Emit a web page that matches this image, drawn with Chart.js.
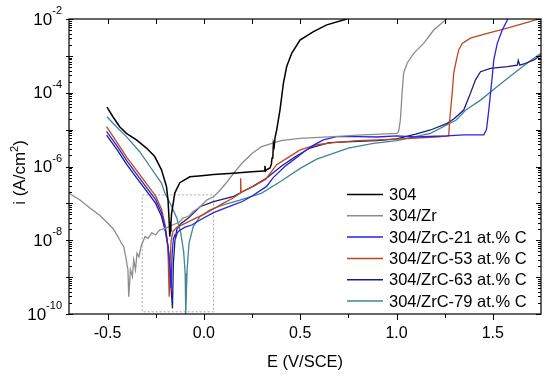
<!DOCTYPE html>
<html><head><meta charset="utf-8">
<script src="https://cdn.jsdelivr.net/npm/chart.js@4/dist/chart.umd.min.js"></script>
<style>html,body{margin:0;padding:0;background:#fff}#wrap{width:550px;height:380px}</style>
</head><body><div id="wrap"><canvas id="c" width="550" height="380"></canvas></div>
<script>
// ---- data (E in V/SCE, current density stored as log10(i / A cm^-2)) ----
const seriesNames = ['304','304/Zr','304/ZrC-21 at.% C','304/ZrC-53 at.% C','304/ZrC-63 at.% C','304/ZrC-79 at.% C'];
const seriesColors = ['#000000','#8c8c8c','#2424e6','#c0461e','#1c1c80','#3f8698'];

const E_304 = [-0.503,-0.472,-0.437,-0.402,-0.350,-0.298,-0.255,-0.220,-0.194,-0.186,-0.180,-0.177,-0.174,-0.171,-0.168,-0.151,-0.125,-0.073,-0.012,0.05,0.151,0.25,0.309,0.314,0.317,0.320,0.323,0.343,0.350,0.354,0.358,0.361,0.365,0.370,0.378,0.395,0.413,0.430,0.456,0.499,0.569,0.638,0.742];
const logI_304 = [-4.39,-4.65,-4.92,-5.10,-5.28,-5.50,-5.73,-6.09,-6.54,-6.91,-7.5,-7.9,-7.75,-7.55,-7.3,-6.72,-6.44,-6.28,-6.25,-6.22,-6.18,-6.14,-6.12,-6.12,-5.98,-6.12,-6.1,-6.04,-5.95,-5.77,-5.75,-5.37,-5.45,-5.2,-5.01,-4.47,-3.74,-3.29,-2.93,-2.57,-2.34,-2.16,-2.0];

const E_Zr = [-0.702,-0.645,-0.593,-0.541,-0.506,-0.472,-0.446,-0.428,-0.416,-0.406,-0.394,-0.390,-0.381,-0.371,-0.364,-0.355,-0.347,-0.337,-0.325,-0.316,-0.305,-0.290,-0.270,-0.250,-0.229,-0.200,-0.160,-0.130,-0.108,-0.080,-0.056,-0.020,0.014,0.050,0.083,0.120,0.152,0.200,0.250,0.300,0.400,0.500,0.670,0.800,1.003,1.011,1.020,1.029,1.037,1.055,1.089,1.141,1.193,1.245,1.260];
const logI_Zr = [-6.72,-6.90,-7.12,-7.32,-7.50,-7.68,-7.90,-8.08,-8.17,-8.44,-8.80,-9.53,-8.80,-8.98,-8.53,-8.80,-8.35,-8.45,-8.15,-8.04,-7.90,-7.95,-7.80,-7.85,-7.72,-7.68,-7.58,-7.52,-7.40,-7.35,-7.22,-7.10,-6.91,-6.82,-6.65,-6.42,-6.20,-5.90,-5.65,-5.46,-5.30,-5.24,-5.19,-5.15,-5.10,-5.05,-4.74,-4.01,-3.47,-3.20,-2.93,-2.66,-2.30,-2.07,-2.00];

const E_C21 = [-0.505,-0.45,-0.40,-0.35,-0.30,-0.25,-0.22,-0.20,-0.185,-0.175,-0.17,-0.165,-0.158,-0.15,-0.145,-0.138,-0.13,-0.10,-0.06,-0.02,0.05,0.15,0.20,0.25,0.326,0.36,0.42,0.465,0.52,0.57,0.62,0.69,0.80,0.90,1.0,1.1,1.2,1.26,1.35,1.453,1.467,1.479,1.488,1.497,1.505,1.523,1.549,1.578];
const logI_C21 = [-5.05,-5.45,-5.85,-6.2,-6.55,-6.9,-7.25,-7.7,-8.2,-8.8,-9.3,-8.4,-7.95,-7.85,-7.92,-7.8,-7.75,-7.65,-7.58,-7.45,-7.25,-7.05,-6.95,-6.8,-6.54,-6.3,-6.0,-5.82,-5.6,-5.42,-5.28,-5.19,-5.19,-5.2,-5.17,-5.2,-5.18,-5.17,-5.14,-5.14,-5.0,-4.47,-4.01,-3.56,-3.11,-2.66,-2.3,-2.0];

const E_C53 = [-0.505,-0.45,-0.40,-0.35,-0.30,-0.25,-0.22,-0.20,-0.19,-0.185,-0.18,-0.175,-0.17,-0.16,-0.14,-0.10,-0.05,0.0,0.05,0.10,0.15,0.19,0.191,0.193,0.20,0.257,0.32,0.378,0.43,0.5,0.586,0.673,0.8,0.9,1.0,1.1,1.2,1.271,1.276,1.289,1.297,1.311,1.323,1.341,1.384,1.471,1.575,1.661,1.74];
const logI_C53 = [-4.92,-5.35,-5.75,-6.1,-6.45,-6.8,-7.15,-7.6,-8.0,-8.5,-9.53,-8.6,-8.0,-7.75,-7.65,-7.55,-7.42,-7.3,-7.15,-7.0,-6.86,-6.72,-6.32,-6.7,-6.68,-6.54,-6.35,-5.95,-5.78,-5.55,-5.41,-5.35,-5.3,-5.28,-5.26,-5.23,-5.2,-5.17,-4.74,-4.01,-3.47,-3.11,-2.84,-2.66,-2.52,-2.39,-2.25,-2.12,-2.0];

const E_C63 = [-0.505,-0.45,-0.40,-0.35,-0.30,-0.25,-0.22,-0.20,-0.185,-0.175,-0.163,-0.158,-0.15,-0.14,-0.12,-0.08,-0.02,0.05,0.15,0.25,0.33,0.40,0.47,0.55,0.65,0.80,0.90,1.0,1.1,1.176,1.263,1.30,1.349,1.384,1.41,1.436,1.488,1.575,1.627,1.632,1.64,1.661,1.713,1.75];
const logI_C63 = [-5.15,-5.55,-5.95,-6.3,-6.65,-7.0,-7.35,-7.75,-8.2,-8.9,-9.85,-8.6,-8.0,-7.7,-7.55,-7.4,-7.09,-6.95,-6.82,-6.55,-6.3,-6.0,-5.75,-5.5,-5.35,-5.32,-5.3,-5.25,-5.12,-5.01,-4.83,-4.7,-4.47,-4.01,-3.65,-3.43,-3.34,-3.29,-3.25,-3.12,-3.25,-3.22,-3.11,-2.98];

const E_C79 = [-0.503,-0.454,-0.402,-0.333,-0.28,-0.22,-0.20,-0.17,-0.14,-0.12,-0.105,-0.097,-0.094,-0.09,-0.087,-0.077,-0.055,-0.021,0.03,0.10,0.187,0.30,0.40,0.50,0.586,0.75,0.88,1.0,1.176,1.31,1.36,1.436,1.523,1.61,1.70,1.75];
const logI_C79 = [-4.65,-4.92,-5.19,-5.6,-6.0,-6.45,-6.75,-7.05,-7.4,-7.8,-8.3,-8.9,-10.0,-9.3,-8.8,-8.08,-7.63,-7.36,-7.18,-7.04,-6.91,-6.72,-6.4,-6.05,-5.8,-5.5,-5.37,-5.3,-5.10,-4.74,-4.47,-4.2,-3.83,-3.47,-3.11,-2.93];

// dotted zoom rectangle
const E_box = [-0.32, 0.05, 0.05, -0.32, -0.32];
const logI_box = [-6.77, -6.77, -9.94, -9.94, -6.77];

// axis ticks
const xTickValues = [-0.5, 0, 0.5, 1.0, 1.5];
const xTickLabels = ['-0.5', '0.0', '0.5', '1.0', '1.5'];
const xMinorValues = [-0.25, 0.25, 0.75, 1.25];
const yDecades = [-10, -9, -8, -7, -6, -5, -4, -3, -2];
const yLabelExponents = [-2, -4, -6, -8, -10];
const xTitle = 'E (V/SCE)';
const yTitleMain = 'i (A/cm', yTitleSup = '2', yTitleEnd = ')';

// ---- build ----
const seriesE = [E_304, E_Zr, E_C21, E_C53, E_C63, E_C79];
const seriesL = [logI_304, logI_Zr, logI_C21, logI_C53, logI_C63, logI_C79];
const toPts = (E, L) => E.map((e, k) => ({ x: e, y: Math.pow(10, L[k]) }));

const datasets = seriesNames.map((n, k) => ({
  label: n, data: toPts(seriesE[k], seriesL[k]),
  borderColor: seriesColors[k], backgroundColor: seriesColors[k],
  borderWidth: k === 0 ? 1.5 : 1.3, pointRadius: 0, showLine: true, tension: 0, fill: false
}));
datasets.push({ label: '', data: toPts(E_box, logI_box), borderColor: '#a8a8a8',
  borderWidth: 1, borderDash: [2, 2], pointRadius: 0, showLine: true, fill: false });

const FONT = "'Liberation Sans', Arial, sans-serif";

const decor = {
  id: 'decor',
  afterDraw(chart) {
    const ctx = chart.ctx, a = chart.chartArea, xs = chart.scales.x, ys = chart.scales.y;
    ctx.save();
    ctx.strokeStyle = '#000'; ctx.lineWidth = 1.2;
    ctx.strokeRect(a.left, a.top, a.right - a.left, a.bottom - a.top);
    ctx.lineWidth = 1;
    ctx.beginPath();
    // x ticks: bottom outward, top inward
    xTickValues.forEach(v => { const p = Math.round(xs.getPixelForValue(v)) + 0.5;
      ctx.moveTo(p, a.bottom); ctx.lineTo(p, a.bottom + 6);
      ctx.moveTo(p, a.top); ctx.lineTo(p, a.top + 5); });
    xMinorValues.forEach(v => { const p = Math.round(xs.getPixelForValue(v)) + 0.5;
      ctx.moveTo(p, a.bottom); ctx.lineTo(p, a.bottom + 4);
      ctx.moveTo(p, a.top); ctx.lineTo(p, a.top + 5); });
    // y ticks
    yDecades.forEach(d => {
      const p = Math.round(ys.getPixelForValue(Math.pow(10, d))) + 0.5;
      ctx.moveTo(a.left - 3, p); ctx.lineTo(a.left + 4, p);
      ctx.moveTo(a.right, p); ctx.lineTo(a.right - 5, p);
      if (d < -2) for (let m = 2; m <= 9; m++) {
        const q = Math.round(ys.getPixelForValue(m * Math.pow(10, d))) + 0.5;
        ctx.moveTo(a.left, q); ctx.lineTo(a.left + 3, q);
        ctx.moveTo(a.right, q); ctx.lineTo(a.right - 3, q);
      }
    });
    ctx.stroke();

    ctx.fillStyle = '#000';
    // x tick labels
    ctx.font = '16px ' + FONT; ctx.textAlign = 'center'; ctx.textBaseline = 'alphabetic';
    xTickValues.forEach((v, k) => ctx.fillText(xTickLabels[k], xs.getPixelForValue(v), 338));
    // y tick labels with superscript exponent
    yLabelExponents.forEach(ex => {
      const p = ys.getPixelForValue(Math.pow(10, ex));
      const expTxt = String(ex);
      ctx.font = '11px ' + FONT; const we = ctx.measureText(expTxt).width;
      ctx.textAlign = 'left'; ctx.textBaseline = 'middle';
      const right = 62;
      ctx.fillText(expTxt, right - we, p - 8);
      ctx.font = '17px ' + FONT; ctx.textAlign = 'right';
      ctx.fillText('10', right - we, p + 1);
    });
    // x title
    ctx.font = '16.5px ' + FONT; ctx.textAlign = 'center'; ctx.textBaseline = 'alphabetic';
    ctx.fillText(xTitle, (a.left + a.right) / 2, 367);
    // y title rotated with superscript
    ctx.save();
    ctx.translate(24.5, 172.5); ctx.rotate(-Math.PI / 2);
    ctx.font = '17px ' + FONT; const w1 = ctx.measureText(yTitleMain).width, w3 = ctx.measureText(yTitleEnd).width;
    ctx.font = '11px ' + FONT; const w2 = ctx.measureText(yTitleSup).width;
    let x0 = -(w1 + w2 + w3) / 2;
    ctx.textAlign = 'left'; ctx.textBaseline = 'alphabetic';
    ctx.font = '17px ' + FONT; ctx.fillText(yTitleMain, x0, 0);
    ctx.font = '11px ' + FONT; ctx.fillText(yTitleSup, x0 + w1, -7);
    ctx.font = '17px ' + FONT; ctx.fillText(yTitleEnd, x0 + w1 + w2, 0);
    ctx.restore();
    // legend
    ctx.font = '16.5px ' + FONT; ctx.textAlign = 'left'; ctx.textBaseline = 'middle';
    seriesNames.forEach((n, k) => {
      const y = 194.5 + k * 21.3;
      ctx.strokeStyle = seriesColors[k]; ctx.lineWidth = 1.5;
      ctx.beginPath(); ctx.moveTo(347, y); ctx.lineTo(383, y); ctx.stroke();
      ctx.fillStyle = '#000'; ctx.fillText(n, 389, y + 1);
    });
    ctx.restore();
  }
};

new Chart(document.getElementById('c'), {
  type: 'scatter',
  data: { datasets },
  options: {
    responsive: false, animation: false, devicePixelRatio: 1,
    layout: { padding: { left: 0, right: 9, top: 19, bottom: 0 } },
    plugins: { legend: { display: false }, tooltip: { enabled: false } },
    scales: {
      x: { type: 'linear', min: -0.7, max: 1.75,
        grid: { display: false }, border: { display: false },
        ticks: { display: false }, afterFit: s => { s.height = 66; } },
      y: { type: 'logarithmic', min: 1e-10, max: 1e-2,
        grid: { display: false }, border: { display: false },
        ticks: { display: false }, afterFit: s => { s.width = 69; } }
    }
  },
  plugins: [decor]
});
</script></body></html>
